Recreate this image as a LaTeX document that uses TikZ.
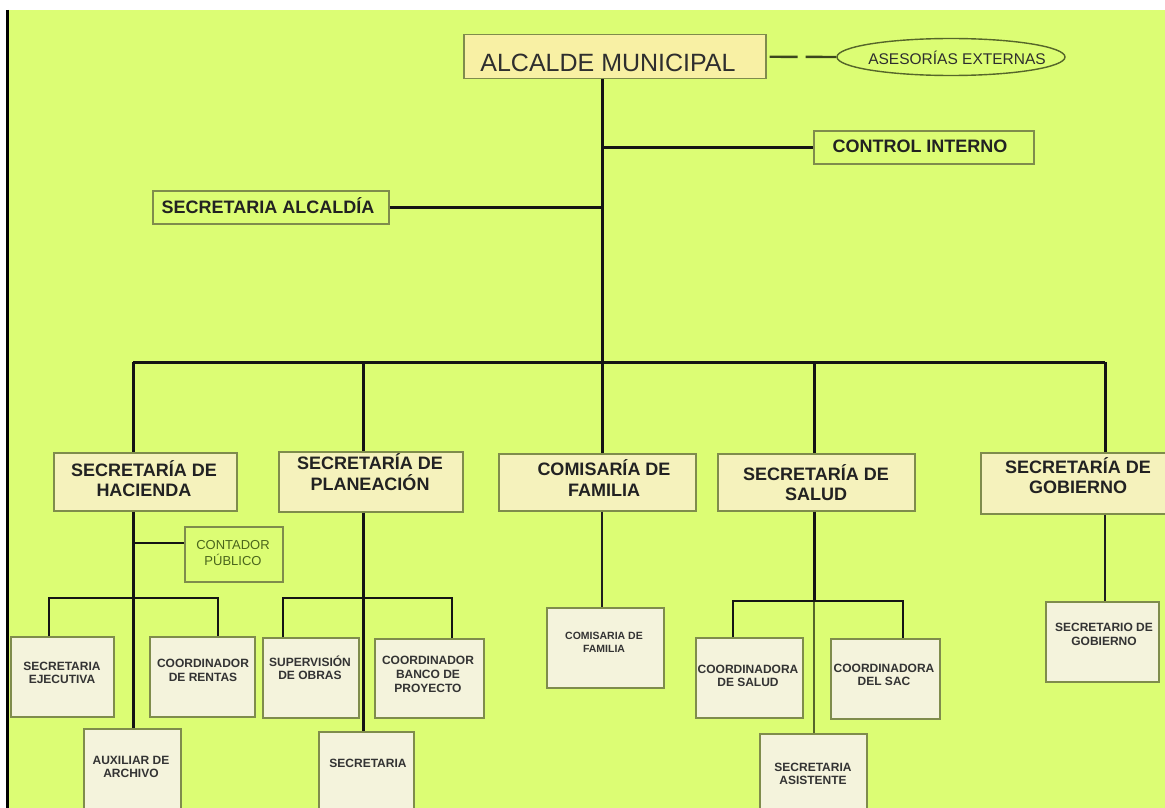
\documentclass[tikz,border=0pt]{standalone}
\usepackage{fontspec}
\setmainfont{Liberation Sans}
\usetikzlibrary{shapes.geometric}
\definecolor{bggreen}{HTML}{DCFD74}
\definecolor{boxline}{HTML}{7F8C4C}
\definecolor{headfill}{HTML}{F8F0A4}
\definecolor{deptfill}{HTML}{F5F2BC}
\definecolor{unitfill}{HTML}{F4F3DC}
\definecolor{inkdark}{HTML}{222222}
\definecolor{olivetext}{HTML}{4A661C}
\definecolor{linkthin}{HTML}{56662A}

\begin{document}
\begin{tikzpicture}[x=1pt,y=-1pt,
  link/.style={line width=3pt, draw=black!92},
  sublink/.style={line width=2.8pt, draw=black!92},
  midlink/.style={line width=2.5pt, draw=black!88},
  thinlink/.style={line width=1.3pt, draw=linkthin},
  dashlink/.style={line width=2.4pt, draw=linkthin!70!black,
    dash pattern=on 0pt off 3pt on 28pt off 8pt on 40pt off 0pt},
  frame/.style={draw=boxline, line width=1.5pt, inner sep=0pt, anchor=north west},
  headbox/.style={frame, fill=headfill},
  deptbox/.style={frame, fill=deptfill},
  unitbox/.style={frame, fill=unitfill},
  openbox/.style={frame},
  txt/.style={anchor=base, inner sep=0pt, text=inkdark},
  tbig/.style={txt, font=\fontsize{25}{28}\selectfont, text=black!82},
  tdept/.style={txt, font=\bfseries\fontsize{18}{20}\selectfont},
  tunit/.style={txt, font=\bfseries\fontsize{12}{14}\selectfont, text=black!80},
  tsmall/.style={txt, font=\bfseries\fontsize{10.5}{12}\selectfont, text=black!80},
  tolive/.style={txt, font=\fontsize{13}{15}\selectfont, text=olivetext},
  tase/.style={txt, font=\fontsize{15.5}{17}\selectfont, text=black!82}
]
\useasboundingbox (0,0) rectangle (1165,808);
% page background and left rule
\fill[white] (0,0) rectangle (1165,808);
\fill[bggreen] (8,10) rectangle (1165,808);
\draw[line width=3pt] (7,10) -- (7,808);

% ---------- boxes ----------
\node[headbox, minimum width=302pt, minimum height=44pt] (alcalde) at (463,34) {};
\node[ellipse, draw=linkthin, line width=1.4pt, minimum width=228pt,
      minimum height=37pt, inner sep=0pt] (ase) at (951,57) {};
\node[openbox, minimum width=220pt, minimum height=33pt] (control) at (813,130) {};
\node[openbox, minimum width=236pt, minimum height=33pt] (salc) at (152,190) {};

\node[deptbox, minimum width=183pt, minimum height=58pt] (hac) at (53,452) {};
\node[deptbox, minimum width=184pt, minimum height=60pt] (pla) at (278,451) {};
\node[deptbox, minimum width=197pt, minimum height=57pt] (com) at (498,453) {};
\node[deptbox, minimum width=197pt, minimum height=57pt] (sal) at (717,453) {};
\node[deptbox, minimum width=190pt, minimum height=61pt] (gob) at (980,452) {};

\node[openbox, minimum width=98pt, minimum height=55pt] (contador) at (184,526) {};
\node[unitbox, minimum width=103pt, minimum height=80pt] (sejec) at (10,636) {};
\node[unitbox, minimum width=105pt, minimum height=80pt] (coren) at (149,636) {};
\node[unitbox, minimum width=97pt, minimum height=92pt] (aux) at (83,728) {};
\node[unitbox, minimum width=96pt, minimum height=80pt] (sup) at (262,637) {};
\node[unitbox, minimum width=109pt, minimum height=79pt] (cbp) at (374,638) {};
\node[unitbox, minimum width=95pt, minimum height=89pt] (secp) at (318,731) {};
\node[unitbox, minimum width=117pt, minimum height=80pt] (cfam) at (546,607) {};
\node[unitbox, minimum width=107pt, minimum height=80pt] (csal) at (695,637) {};
\node[unitbox, minimum width=109pt, minimum height=80pt] (csac) at (830,638) {};
\node[unitbox, minimum width=107pt, minimum height=87pt] (sasis) at (759,733) {};
\node[unitbox, minimum width=113pt, minimum height=80pt] (sgob) at (1045,601) {};

% ---------- junction points ----------
\coordinate (tbus) at (602,362);
\coordinate (hx) at (133,362);
\coordinate (px) at (363,362);
\coordinate (sx) at (814,362);
\coordinate (gx) at (1105,362);
\coordinate (hc) at (133,543);
\coordinate (hl) at (49,598);
\coordinate (hr) at (218,598);
\coordinate (pl) at (283,598);
\coordinate (pr) at (452,598);
\coordinate (sj) at (814,601);
\coordinate (sl) at (733,601);
\coordinate (sr) at (903,601);

% ---------- connectors ----------
\draw[dashlink] (alcalde.east) -- (ase.west);
\draw[link] (alcalde.south -| tbus) -- (tbus);
\draw[link] (tbus |- control.west) -- (control.west);
\draw[link] (salc.east) -- (tbus |- salc.east);
\draw[link] (hx) -- (gx);
\draw[link] (hx) -- (hx |- hac.north);
\draw[link] (px) -- (px |- pla.north);
\draw[link] (tbus) -- (tbus |- com.north);
\draw[link] (sx) -- (sx |- sal.north);
\draw[link] (gx) -- (gx |- gob.north);

\draw[link] (hx |- hac.south) -- (hx |- aux.north);
\draw[sublink] (hc) -- (contador.west |- hc);
\draw[sublink] (hl |- sejec.north) -- (hl) -- (hr) -- (hr |- coren.north);

\draw[link] (px |- pla.south) -- (px |- secp.north);
\draw[sublink] (pl |- sup.north) -- (pl) -- (pr) -- (pr |- cbp.north);

\draw[midlink] (tbus |- com.south) -- (tbus |- cfam.north);

\draw[link] (sx |- sal.south) -- (sj);
\draw[thinlink] (sj) -- (sj |- sasis.north);
\draw[sublink] (sl |- csal.north) -- (sl) -- (sr) -- (sr |- csac.north);

\draw[midlink] (gx |- gob.south) -- (gx |- sgob.north);

% ---------- labels ----------
\node[tbig] (alcaldeT) at (608,71) {ALCALDE MUNICIPAL};
\node[tase] (aseT) at (957,65) {ASESORÍAS EXTERNAS};
\node[tdept] (controlT) at (920,152.5) {CONTROL INTERNO};
\node[tdept] (salcT) at (268,213.5) {SECRETARIA ALCALDÍA};

\node[tdept] (hacA) at (144,476.5) {SECRETARÍA DE};
\node[tdept] (hacB) at (144,496.5) {HACIENDA};
\node[tdept] (plaA) at (370,469) {SECRETARÍA DE};
\node[tdept] (plaB) at (370,490) {PLANEACIÓN};
\node[tdept] (comA) at (604,475) {COMISARÍA DE};
\node[tdept] (comB) at (604,496) {FAMILIA};
\node[tdept] (salA) at (816,480) {SECRETARÍA DE};
\node[tdept] (salB) at (816,500) {SALUD};
\node[tdept] (gobA) at (1078,473) {SECRETARÍA DE};
\node[tdept] (gobB) at (1078,493) {GOBIERNO};

\node[tolive] (contA) at (233,549) {CONTADOR};
\node[tolive] (contB) at (233,565) {PÚBLICO};

\node[tunit] (sejecA) at (62,670) {SECRETARIA};
\node[tunit] (sejecB) at (62,683) {EJECUTIVA};
\node[tunit] (corenA) at (203,667) {COORDINADOR};
\node[tunit] (corenB) at (203,681) {DE RENTAS};
\node[tunit] (auxA) at (131,764) {AUXILIAR DE};
\node[tunit] (auxB) at (131,777) {ARCHIVO};
\node[tunit] (supA) at (310,666) {SUPERVISIÓN};
\node[tunit] (supB) at (310,679) {DE OBRAS};
\node[tunit] (cbpA) at (428,664) {COORDINADOR};
\node[tunit] (cbpB) at (428,678) {BANCO DE};
\node[tunit] (cbpC) at (428,692) {PROYECTO};
\node[tunit] (secpA) at (368,767) {SECRETARIA};
\node[tsmall] (cfamA) at (604,639.5) {COMISARIA DE};
\node[tsmall] (cfamB) at (604,652) {FAMILIA};
\node[tunit] (csalA) at (748,673) {COORDINADORA};
\node[tunit] (csalB) at (748,686.5) {DE SALUD};
\node[tunit] (csacA) at (884,672) {COORDINADORA};
\node[tunit] (csacB) at (884,685) {DEL SAC};
\node[tunit] (sasisA) at (813,771) {SECRETARIA};
\node[tunit] (sasisB) at (813,784) {ASISTENTE};
\node[tunit] (sgobA) at (1104,631) {SECRETARIO DE};
\node[tunit] (sgobB) at (1104,645) {GOBIERNO};
\end{tikzpicture}
\end{document}
